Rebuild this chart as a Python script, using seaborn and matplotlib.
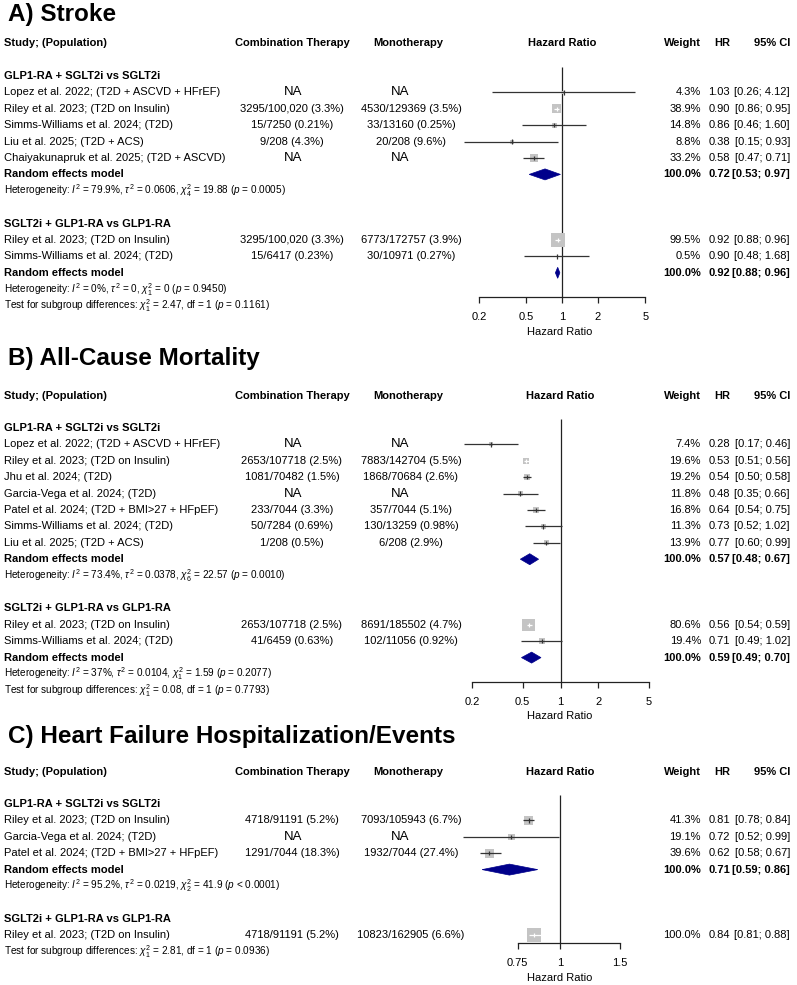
import numpy as np
import pandas as pd
import matplotlib
matplotlib.use("Agg")
import matplotlib.pyplot as plt
from matplotlib.patches import Polygon
from matplotlib.ticker import NullLocator
import seaborn as sns

sns.set_theme(style="white")
plt.rcParams['font.family'] = ['Liberation Sans', 'DejaVu Sans']
plt.rcParams['mathtext.fontset'] = 'custom'
plt.rcParams['mathtext.rm'] = 'Liberation Sans'
plt.rcParams['mathtext.it'] = 'Liberation Sans:italic'
plt.rcParams['mathtext.bf'] = 'Liberation Sans:bold'

# ---------------- data ----------------
GROUP1 = "GLP1-RA + SGLT2i vs SGLT2i"
GROUP2 = "SGLT2i + GLP1-RA vs GLP1-RA"

# A) Stroke
A1_STUDY = ["Lopez et al. 2022; (T2D + ASCVD + HFrEF)", "Riley et al. 2023; (T2D on Insulin)",
            "Simms-Williams et al. 2024; (T2D)", "Liu et al. 2025; (T2D + ACS)",
            "Chaiyakunapruk et al. 2025; (T2D + ASCVD)"]
A1_COMB = ["NA", "3295/100,020 (3.3%)", "15/7250 (0.21%)", "9/208 (4.3%)", "NA"]
A1_MONO = ["NA", "4530/129369 (3.5%)", "33/13160 (0.25%)", "20/208 (9.6%)", "NA"]
A1_W = [4.3, 38.9, 14.8, 8.8, 33.2]
A1_HR = [1.03, 0.90, 0.86, 0.38, 0.58]
A1_LO = [0.26, 0.86, 0.46, 0.15, 0.47]
A1_HI = [4.12, 0.95, 1.60, 0.93, 0.71]
A1_POOL = [0.72, 0.53, 0.97]
A1_HET = r"Heterogeneity: $I^2$ = 79.9%, $\tau^2$ = 0.0606, $\chi^2_4$ = 19.88 ($p$ = 0.0005)"

A2_STUDY = ["Riley et al. 2023; (T2D on Insulin)", "Simms-Williams et al. 2024; (T2D)"]
A2_COMB = ["3295/100,020 (3.3%)", "15/6417 (0.23%)"]
A2_MONO = ["6773/172757 (3.9%)", "30/10971 (0.27%)"]
A2_W = [99.5, 0.5]
A2_HR = [0.92, 0.90]
A2_LO = [0.88, 0.48]
A2_HI = [0.96, 1.68]
A2_POOL = [0.92, 0.88, 0.96]
A2_HET = r"Heterogeneity: $I^2$ = 0%, $\tau^2$ = 0, $\chi^2_1$ = 0 ($p$ = 0.9450)"
A_TEST = r"Test for subgroup differences: $\chi^2_1$ = 2.47, df = 1 ($p$ = 0.1161)"

# B) All-Cause Mortality
B1_STUDY = ["Lopez et al. 2022; (T2D + ASCVD + HFrEF)", "Riley et al. 2023; (T2D on Insulin)",
            "Jhu et al. 2024; (T2D)", "Garcia-Vega et al. 2024; (T2D)",
            "Patel et al. 2024; (T2D + BMI>27 + HFpEF)", "Simms-Williams et al. 2024; (T2D)",
            "Liu et al. 2025; (T2D + ACS)"]
B1_COMB = ["NA", "2653/107718 (2.5%)", "1081/70482 (1.5%)", "NA", "233/7044 (3.3%)",
           "50/7284 (0.69%)", "1/208 (0.5%)"]
B1_MONO = ["NA", "7883/142704 (5.5%)", "1868/70684 (2.6%)", "NA", "357/7044 (5.1%)",
           "130/13259 (0.98%)", "6/208 (2.9%)"]
B1_W = [7.4, 19.6, 19.2, 11.8, 16.8, 11.3, 13.9]
B1_HR = [0.28, 0.53, 0.54, 0.48, 0.64, 0.73, 0.77]
B1_LO = [0.17, 0.51, 0.50, 0.35, 0.54, 0.52, 0.60]
B1_HI = [0.46, 0.56, 0.58, 0.66, 0.75, 1.02, 0.99]
B1_POOL = [0.57, 0.48, 0.67]
B1_HET = r"Heterogeneity: $I^2$ = 73.4%, $\tau^2$ = 0.0378, $\chi^2_6$ = 22.57 ($p$ = 0.0010)"

B2_STUDY = ["Riley et al. 2023; (T2D on Insulin)", "Simms-Williams et al. 2024; (T2D)"]
B2_COMB = ["2653/107718 (2.5%)", "41/6459 (0.63%)"]
B2_MONO = ["8691/185502 (4.7%)", "102/11056 (0.92%)"]
B2_W = [80.6, 19.4]
B2_HR = [0.56, 0.71]
B2_LO = [0.54, 0.49]
B2_HI = [0.59, 1.02]
B2_POOL = [0.59, 0.49, 0.70]
B2_HET = r"Heterogeneity: $I^2$ = 37%, $\tau^2$ = 0.0104, $\chi^2_1$ = 1.59 ($p$ = 0.2077)"
B_TEST = r"Test for subgroup differences: $\chi^2_1$ = 0.08, df = 1 ($p$ = 0.7793)"

# C) Heart Failure Hospitalization/Events
C1_STUDY = ["Riley et al. 2023; (T2D on Insulin)", "Garcia-Vega et al. 2024; (T2D)",
            "Patel et al. 2024; (T2D + BMI>27 + HFpEF)"]
C1_COMB = ["4718/91191 (5.2%)", "NA", "1291/7044 (18.3%)"]
C1_MONO = ["7093/105943 (6.7%)", "NA", "1932/7044 (27.4%)"]
C1_W = [41.3, 19.1, 39.6]
C1_HR = [0.81, 0.72, 0.62]
C1_LO = [0.78, 0.52, 0.58]
C1_HI = [0.84, 0.99, 0.67]
C1_POOL = [0.71, 0.59, 0.86]
C1_HET = r"Heterogeneity: $I^2$ = 95.2%, $\tau^2$ = 0.0219, $\chi^2_2$ = 41.9 ($p$ < 0.0001)"

C2_STUDY = ["Riley et al. 2023; (T2D on Insulin)"]
C2_COMB = ["4718/91191 (5.2%)"]
C2_MONO = ["10823/162905 (6.6%)"]
C2_W = [100.0]
C2_HR = [0.84]
C2_LO = [0.81]
C2_HI = [0.88]
C_TEST = r"Test for subgroup differences: $\chi^2_1$ = 2.81, df = 1 ($p$ = 0.0936)"

TICKS_AB = [0.2, 0.5, 1, 2, 5]
TICKS_C = [0.75, 1, 1.5]

# ---------------- layout / style ----------------
W, H = 797, 985
LINE = 16.4
FS = 8
FS_SMALL = 7.2
FS_NA = 9.5
X_STUDY, X_COMB, X_MONO, X_MONO_NA = 4, 292, 411, 400
X_W, X_HR, X_CI = 701, 730, 790
SQ_COL = "#c4c4c4"
LINE_COL = "#333333"
DIAMOND_COL = "#00008B"
SQ_MAX_PX = 14.0


def group(name, study, comb, mono, w, hr, lo, hi, pool=None, het=None):
    return dict(name=name, study=study, comb=comb, mono=mono, w=w, hr=hr,
                lo=lo, hi=hi, pool=pool, het=het)


PANELS = [
    dict(title="A) Stroke", title_y=14, header_y=43, group_y=76, ref_x=562, ppd=119,
         ticks=TICKS_AB, test=A_TEST,
         groups=[group(GROUP1, A1_STUDY, A1_COMB, A1_MONO, A1_W, A1_HR, A1_LO, A1_HI, A1_POOL, A1_HET),
                 group(GROUP2, A2_STUDY, A2_COMB, A2_MONO, A2_W, A2_HR, A2_LO, A2_HI, A2_POOL, A2_HET)]),
    dict(title="B) All-Cause Mortality", title_y=357, header_y=396, group_y=428, ref_x=560.5, ppd=126,
         ticks=TICKS_AB, test=B_TEST,
         groups=[group(GROUP1, B1_STUDY, B1_COMB, B1_MONO, B1_W, B1_HR, B1_LO, B1_HI, B1_POOL, B1_HET),
                 group(GROUP2, B2_STUDY, B2_COMB, B2_MONO, B2_W, B2_HR, B2_LO, B2_HI, B2_POOL, B2_HET)]),
    dict(title="C) Heart Failure Hospitalization/Events", title_y=736, header_y=772, group_y=804,
         ref_x=560, ppd=340, ticks=TICKS_C, test=C_TEST,
         groups=[group(GROUP1, C1_STUDY, C1_COMB, C1_MONO, C1_W, C1_HR, C1_LO, C1_HI, C1_POOL, C1_HET),
                 group(GROUP2, C2_STUDY, C2_COMB, C2_MONO, C2_W, C2_HR, C2_LO, C2_HI)]),
]


def fmt_num(v):
    return ("%g" % v) if v >= 1 else str(v)


def txt(bg, x, y, s, ha='left', bold=False, size=FS):
    bg.text(x, y, s, ha=ha, va='center', fontsize=size,
            fontweight='bold' if bold else 'normal', color='black')


def draw_panel(fig, bg, p):
    ref, ppd = p['ref_x'], p['ppd']
    txt(bg, 8, p['title_y'] + 1, p['title'], bold=True, size=17.5)
    hy = p['header_y']
    txt(bg, X_STUDY, hy, "Study; (Population)", bold=True)
    txt(bg, X_COMB, hy, "Combination Therapy", ha='center', bold=True)
    txt(bg, 408, hy, "Monotherapy", ha='center', bold=True)
    txt(bg, ref, hy, "Hazard Ratio", ha='center', bold=True)
    txt(bg, X_W, hy, "Weight", ha='right', bold=True)
    txt(bg, X_HR, hy, "HR", ha='right', bold=True)
    txt(bg, X_CI, hy, "95% CI", ha='right', bold=True)

    # vertical positions of every line
    y = p['group_y']
    rows_all = []
    for g in p['groups']:
        n = len(g['study'])
        rows = y + LINE * np.arange(1, n + 1)
        k = n + 1
        pool_y = het_y = None
        if g['pool'] is not None:
            pool_y = y + LINE * k
            k += 1
        if g['het'] is not None:
            het_y = y + LINE * k
            k += 1
        rows_all.append((y, rows, pool_y, het_y))
        last = y + LINE * (k - 1)
        y = y + LINE * (k + 1)
    test_y = last + LINE
    axis_y = last + 8

    # forest axes, y in figure pixels, x log hazard ratio
    x0, x1 = 420, 700
    top, bot = p['group_y'] - 20, axis_y + 45
    ax = fig.add_axes([x0 / W, 1 - bot / H, (x1 - x0) / W, (bot - top) / H])
    ax.patch.set_alpha(0)
    ax.set_xscale('log')

    for g, (gy, rows, pool_y, het_y) in zip(p['groups'], rows_all):
        txt(bg, X_STUDY, gy, g['name'], bold=True)
        for i, r in enumerate(rows):
            txt(bg, X_STUDY, r, g['study'][i])
            if g['comb'][i] == "NA":
                txt(bg, X_COMB + 1, r, "NA", ha='center', size=FS_NA)
            else:
                txt(bg, X_COMB, r, g['comb'][i], ha='center')
            if g['mono'][i] == "NA":
                txt(bg, X_MONO_NA, r, "NA", ha='center', size=FS_NA)
            else:
                txt(bg, X_MONO, r, g['mono'][i], ha='center')
            txt(bg, X_W, r, "%.1f%%" % g['w'][i], ha='right')
            txt(bg, X_HR, r, "%.2f" % g['hr'][i], ha='right')
            txt(bg, X_CI, r, "[%.2f; %.2f]" % (g['lo'][i], g['hi'][i]), ha='right')

        df = pd.DataFrame({'hr': g['hr'], 'row': rows, 'w': g['w'],
                           'lo': g['lo'], 'hi': g['hi']})
        sns.scatterplot(data=df, x='hr', y='row', size='w', size_norm=(0, 100),
                        sizes=(0, (SQ_MAX_PX * 0.72) ** 2), marker='s', color=SQ_COL,
                        linewidth=0, legend=False, ax=ax, zorder=2)
        half = SQ_MAX_PX * np.sqrt(df['w'] / 100) / 2
        inside = ((ppd * np.log10(df['hr'] / df['lo']) <= half) &
                  (ppd * np.log10(df['hi'] / df['hr']) <= half))
        cols = ['white' if v else LINE_COL for v in inside]
        ax.hlines(df['row'], df['lo'], df['hi'], colors=cols, lw=0.9, zorder=3)
        ax.scatter(df['hr'], df['row'], marker='|', s=10, c=cols, linewidths=0.9, zorder=4)

        if pool_y is not None:
            hr, lo, hi = g['pool']
            txt(bg, X_STUDY, pool_y, "Random effects model", bold=True)
            txt(bg, X_W, pool_y, "100.0%", ha='right', bold=True)
            txt(bg, X_HR, pool_y, "%.2f" % hr, ha='right', bold=True)
            txt(bg, X_CI, pool_y, "[%.2f; %.2f]" % (lo, hi), ha='right', bold=True)
            ax.add_patch(Polygon([(lo, pool_y), (hr, pool_y - 5.5), (hi, pool_y), (hr, pool_y + 5.5)],
                                 closed=True, facecolor=DIAMOND_COL, edgecolor=DIAMOND_COL,
                                 lw=0.5, zorder=3))
        if het_y is not None:
            txt(bg, X_STUDY, het_y, g['het'], size=FS_SMALL)

    txt(bg, X_STUDY, test_y, p['test'], size=FS_SMALL)

    ax.vlines(1, p['group_y'] - 9, axis_y, colors='#222222', lw=0.9, zorder=1)
    ax.set_xlim(10 ** ((x0 - ref) / ppd), 10 ** ((x1 - ref) / ppd))
    ax.set_ylim(bot, top)
    for s in ['top', 'left', 'right']:
        ax.spines[s].set_visible(False)
    ax.spines['bottom'].set_position(('data', axis_y))
    ax.spines['bottom'].set_bounds(p['ticks'][0], p['ticks'][-1])
    ax.spines['bottom'].set_color('#222222')
    ax.spines['bottom'].set_linewidth(0.9)
    ax.set_xticks(p['ticks'])
    ax.set_xticklabels([fmt_num(t) for t in p['ticks']])
    ax.xaxis.set_minor_locator(NullLocator())
    ax.set_yticks([])
    ax.tick_params(axis='x', bottom=True, direction='out', length=4.5, width=0.9,
                   color='#222222', pad=6.5, labelsize=FS, labelcolor='black')
    ax.set_xlabel("Hazard Ratio", fontsize=FS, labelpad=3, color='black')
    ax.set_ylabel("")


fig = plt.figure(figsize=(W / 100, H / 100), dpi=100)
fig.patch.set_facecolor('white')
bg = fig.add_axes([0, 0, 1, 1])
bg.set_xlim(0, W)
bg.set_ylim(H, 0)
bg.axis('off')

for p in PANELS:
    draw_panel(fig, bg, p)

fig.savefig("out.png", dpi=100, facecolor='white')
